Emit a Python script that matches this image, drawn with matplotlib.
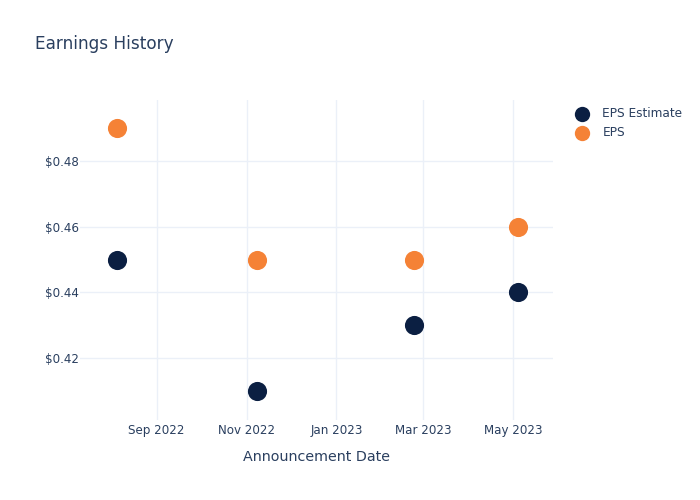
import numpy as np
import matplotlib.pyplot as plt
import matplotlib.dates as mdates
from matplotlib.ticker import FuncFormatter
from datetime import datetime

dates = [datetime(2022, 8, 5), datetime(2022, 11, 8), datetime(2023, 2, 23), datetime(2023, 5, 4)]
eps_estimate = [0.45, 0.41, 0.43, 0.44]
eps_actual = [0.49, 0.45, 0.45, 0.46]

txt = '#2a3f5f'
grid = '#ebf0f8'

fig = plt.figure(figsize=(7, 5), dpi=100)
ax = fig.add_axes([80/700, 80/500, 473/700, 320/500])

ax.scatter(dates, eps_estimate, s=190, color='#0b1f42', label='EPS Estimate', zorder=3, linewidths=0)
ax.scatter(dates, eps_actual, s=190, color='#f58236', label='EPS', zorder=3, linewidths=0)

ax.set_xlim(datetime(2022, 7, 11), datetime(2023, 5, 28))
ax.set_ylim(0.4011, 0.4986)
ax.set_yticks([0.42, 0.44, 0.46, 0.48])
ax.yaxis.set_major_formatter(FuncFormatter(lambda v, p: '$%.2f' % v))
ax.set_xticks([datetime(2022, 9, 1), datetime(2022, 11, 1), datetime(2023, 1, 1),
               datetime(2023, 3, 1), datetime(2023, 5, 1)])
ax.xaxis.set_major_formatter(mdates.DateFormatter('%b %Y'))

ax.grid(True, color=grid, linewidth=1)
ax.set_axisbelow(True)
for s in ax.spines.values():
    s.set_visible(False)
ax.tick_params(length=0, labelsize=8.6, colors=txt)
ax.tick_params(axis='x', pad=3)
ax.tick_params(axis='y', pad=1)

ax.set_xlabel('Announcement Date', fontsize=10.3, color=txt, labelpad=9)
fig.text(35/700, 1 - 44/500, 'Earnings History', fontsize=12.2, color=txt, va='center')

leg = ax.legend(loc='upper left', bbox_to_anchor=(565/700, 1 - 102/500), bbox_transform=fig.transFigure,
                frameon=False, fontsize=8.7, labelcolor=txt, handletextpad=0.7, labelspacing=0.5,
                markerscale=0.8, borderaxespad=0)

fig.savefig('out.png', dpi=100)
